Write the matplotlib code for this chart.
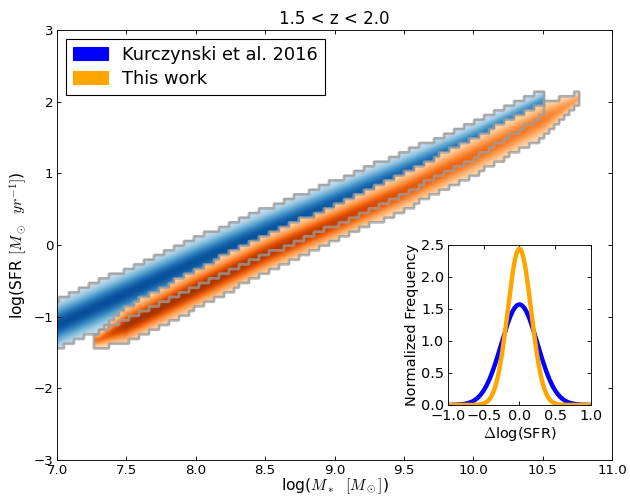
import matplotlib
matplotlib.use('Agg')
import matplotlib.pyplot as plt
import matplotlib.patches as mpatches
import numpy as np

# Old-style (classic) look: ticks inside on every side, cm math text
plt.rcParams['mathtext.fontset'] = 'cm'
plt.rcParams['font.size'] = 12
for ax_name in ['xtick', 'ytick']:
    plt.rcParams[ax_name + '.direction'] = 'in'
    plt.rcParams[ax_name + '.major.size'] = 4
plt.rcParams['xtick.top'] = True
plt.rcParams['ytick.right'] = True
dpi = 80

# Ridge of each band: centre, half width, peak shade
blue_x = [7.0, 7.5, 8.0, 8.5, 9.0, 9.5, 10.0, 10.5]
blue_mid = [-1.12, -0.68, -0.24, 0.18, 0.58, 1.00, 1.45, 1.98]
blue_hw = [0.35, 0.34, 0.33, 0.32, 0.31, 0.29, 0.25, 0.18]
blue_peak = [0.88, 0.88, 0.87, 0.86, 0.84, 0.80, 0.75, 0.65]

orange_x = [7.3, 7.5, 8.0, 8.5, 9.0, 9.5, 10.0, 10.5, 10.77]
orange_mid = [-1.33, -1.12, -0.62, -0.13, 0.30, 0.74, 1.23, 1.74, 2.05]
orange_hw = [0.10, 0.25, 0.27, 0.26, 0.25, 0.25, 0.26, 0.24, 0.08]
orange_peak = [0.6, 0.88, 0.88, 0.85, 0.80, 0.70, 0.62, 0.55, 0.4]

# Residual distributions (inset): peak heights of the normalised curves
kurc_peak = 1.57
this_peak = 2.44

# Coarse bins give the stepped outline, the fine grid the smooth shading
dx, dy = 0.036, 0.065
k = 6
xe = np.arange(6.8, 11.0 + dx, dx)
ye = np.arange(-3.0, 3.0 + dy, dy)
xc = 0.5 * (xe[1:] + xe[:-1])
yc = 0.5 * (ye[1:] + ye[:-1])
fx = np.linspace(xe[0], xe[-1], len(xc) * k)
fy = np.linspace(ye[0], ye[-1], len(yc) * k)


def band_shape(Xg, Yg, bx, bmid, bhw, bpeak):
    mid = np.interp(Xg, bx, bmid)
    hw = np.interp(Xg, bx, bhw)
    peak = np.interp(Xg, bx, bpeak)
    d = Yg - mid
    val = 0.15 + (peak - 0.15) * np.exp(-0.5 * (d / (0.5 * hw)) ** 2)
    inside = (np.abs(d) <= hw) & (Xg >= bx[0] - dx / 2) & (Xg <= bx[-1])
    return val, inside


def draw_band(ax, bx, bmid, bhw, bpeak, cmap):
    Xc, Yc = np.meshgrid(xc, yc)
    _, inside = band_shape(Xc, Yc, bx, bmid, bhw, bpeak)
    fine_in = np.kron(inside.astype(float), np.ones((k, k)))
    Xf, Yf = np.meshgrid(fx, fy)
    val, _ = band_shape(Xf, Yf, bx, bmid, bhw, bpeak)
    val = np.ma.masked_where(fine_in < 0.5, val)
    ax.imshow(val, extent=[xe[0], xe[-1], ye[0], ye[-1]], origin='lower',
              aspect='auto', cmap=cmap, vmin=0, vmax=1,
              interpolation='bilinear')
    ax.contour(fx, fy, fine_in, levels=[0.5], colors='0.62', linewidths=2.5,
               alpha=0.75)


fig = plt.figure(figsize=(630 / dpi, 496 / dpi), dpi=dpi)
ax = fig.add_axes([0.0905, 0.0726, 0.881, 0.867])

draw_band(ax, blue_x, blue_mid, blue_hw, blue_peak, 'Blues')
draw_band(ax, orange_x, orange_mid, orange_hw, orange_peak, 'Oranges')

ax.set_xlim(7, 11)
ax.set_ylim(-3, 3)
ax.set_xticks(np.arange(7.0, 11.01, 0.5))
ax.set_yticks(np.arange(-3, 4, 1))
ax.set_xlabel(r'log($M_*\ \ [M_\odot]$)', fontsize=14, labelpad=0)
ax.set_ylabel(r'log(SFR $[M_\odot\ \ yr^{-1}]$)', fontsize=14, labelpad=4)
ax.set_title('1.5 < z < 2.0', fontsize=15, pad=5)

handles = [mpatches.Patch(color='blue', label='Kurczynski et al. 2016'),
           mpatches.Patch(color='orange', label='This work')]
leg = ax.legend(handles=handles, loc='upper left', fontsize=16,
                fancybox=False, framealpha=1, edgecolor='black',
                borderaxespad=0.5, handlelength=2.0, handleheight=0.8,
                labelspacing=0.35, borderpad=0.38)
leg.get_frame().set_linewidth(1.0)

# Inset with the residual distributions
ins = fig.add_axes([0.711, 0.1835, 0.227, 0.3226])
xs = np.linspace(-1, 1, 400)
for peak, col in [(kurc_peak, 'blue'), (this_peak, 'orange')]:
    sigma = 1.0 / (peak * np.sqrt(2 * np.pi))
    ins.plot(xs, peak * np.exp(-0.5 * (xs / sigma) ** 2), color=col, lw=4)
ins.set_xlim(-1, 1)
ins.set_ylim(0, 2.5)
ins.set_xticks([-1.0, -0.5, 0.0, 0.5, 1.0])
ins.set_yticks([0.0, 0.5, 1.0, 1.5, 2.0, 2.5])
ins.tick_params(labelsize=13)
ins.set_xlabel(r'$\Delta$log(SFR)', fontsize=13, labelpad=2)
ins.set_ylabel('Normalized Frequency', fontsize=13, labelpad=2)

fig.savefig('out.png', dpi=dpi)
